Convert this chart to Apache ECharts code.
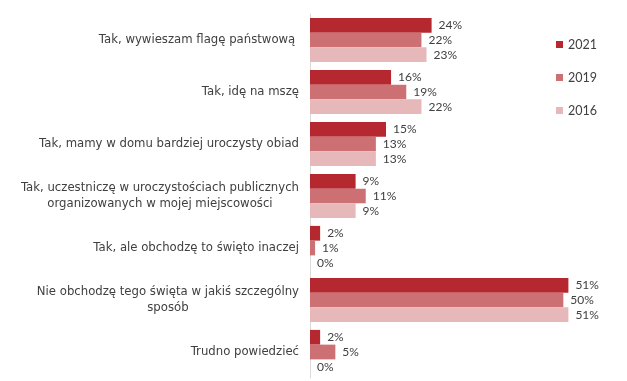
<!DOCTYPE html>
<html>
<head>
<meta charset="utf-8">
<script src="https://cdn.jsdelivr.net/npm/echarts@6/dist/echarts.min.js"></script>
<style>
html,body{margin:0;padding:0;background:#fff;}
#c{width:627px;height:381px;}
</style>
</head>
<body>
<div id="c"></div>
<script>
const categories = [
  "Tak, wywieszam flagę państwową ",
  "Tak, idę na mszę",
  "Tak, mamy w domu bardziej uroczysty obiad",
  "Tak, uczestniczę w uroczystościach publicznych\norganizowanych w mojej miejscowości",
  "Tak, ale obchodzę to święto inaczej",
  "Nie obchodzę tego święta w jakiś szczególny\nsposób",
  "Trudno powiedzieć"
];
const seriesNames = ["2021", "2019", "2016"];
const values2021 = [24, 16, 15, 9, 2, 51, 2];
const values2019 = [22, 19, 13, 11, 1, 50, 5];
const values2016 = [23, 22, 13, 9, 0, 51, 0];
const colors = ["#B5282F", "#CD7074", "#E6B8BA"];

const chart = echarts.init(document.getElementById('c'));
const font = 'Lato, "Noto Sans", sans-serif';
const labFont = '"DejaVu Sans", sans-serif';
function mk(name, data, color) {
  return {
    name: name,
    type: 'bar',
    data: data,
    barGap: '0%',
    barCategoryGap: '15%',
    itemStyle: {color: color},
    label: {
      show: true,
      position: 'right',
      distance: 7,
      formatter: '{c}%',
      color: '#404040',
      fontFamily: font,
      fontSize: 12
    }
  };
}
chart.setOption({
  animation: false,
  textStyle: {fontFamily: font},
  legend: {
    orient: 'vertical',
    left: 551,
    top: 33,
    itemWidth: 7,
    itemHeight: 7,
    itemGap: 20,
    icon: 'rect',
    textStyle: {color: '#404040', fontSize: 12.5, fontFamily: font},
    data: seriesNames
  },
  grid: {left: 310, top: 14, width: 304, bottom: 3, containLabel: false},
  xAxis: {
    type: 'value', min: 0, max: 60,
    show: false
  },
  yAxis: {
    type: 'category',
    inverse: true,
    data: categories,
    axisLine: {show: true, lineStyle: {color: '#D9D9D9', width: 1}},
    axisTick: {show: false},
    axisLabel: {
      margin: 11,
      color: '#404040',
      fontFamily: labFont,
      fontSize: 11.7,
      formatter: function (v) {
        return v.split('\n').map(function (s) { return '{c|' + s + '}'; }).join('\n');
      },
      rich: {c: {align: 'center', lineHeight: 16, fontSize: 11.7, fontFamily: labFont, color: '#404040'}}
    }
  },
  series: [
    mk(seriesNames[0], values2021, colors[0]),
    mk(seriesNames[1], values2019, colors[1]),
    mk(seriesNames[2], values2016, colors[2])
  ]
});
</script>
</body>
</html>
